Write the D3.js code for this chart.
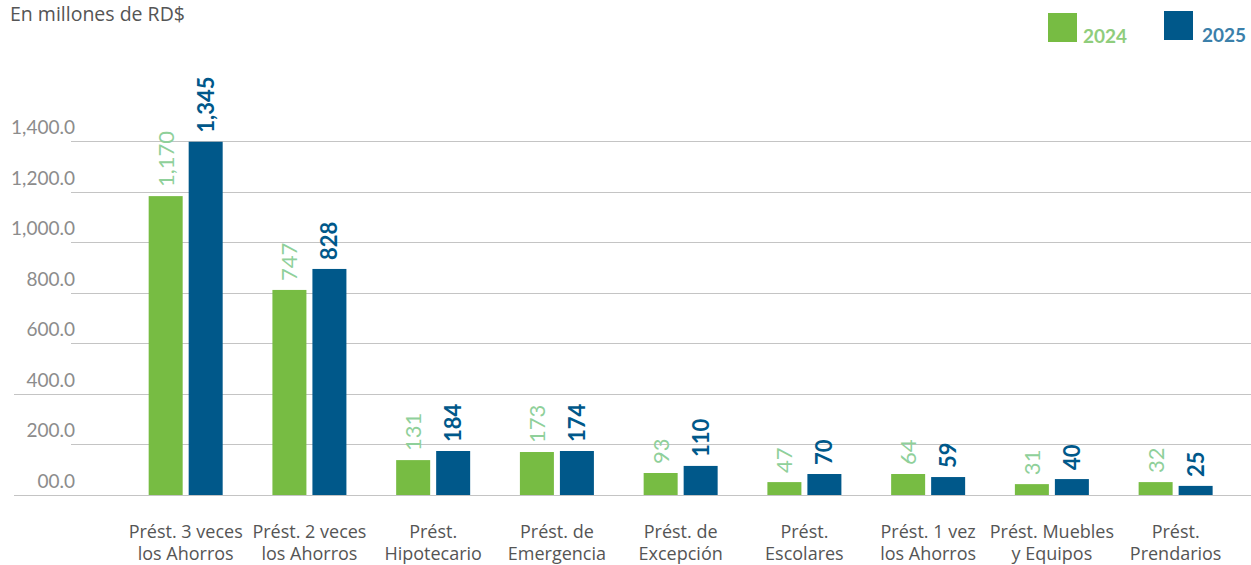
<!DOCTYPE html>
<html>
<head>
<meta charset="utf-8">
<script src="https://cdn.jsdelivr.net/npm/d3@7"></script>
<style>
  html, body { margin: 0; padding: 0; background: #ffffff; }
  svg { display: block; font-family: Lato, "Noto Sans", sans-serif; }
</style>
</head>
<body>
<svg id="chart" width="1251" height="565"></svg>
<script>
// ---- data ----
const categories = [
  ["Prést. 3 veces", "los Ahorros"],
  ["Prést. 2 veces", "los Ahorros"],
  ["Prést.", "Hipotecario"],
  ["Prést. de", "Emergencia"],
  ["Prést. de", "Excepción"],
  ["Prést.", "Escolares"],
  ["Prést. 1 vez", "los Ahorros"],
  ["Prést. Muebles", "y Equipos"],
  ["Prést.", "Prendarios"]
];
const seriesNames = ["2024", "2025"];
// bar heights as drawn in the picture
const values2024 = [1182, 811, 138, 170, 87, 51, 83, 43, 51];
const values2025 = [1397, 894, 174, 174, 115, 83, 71, 63, 36];
// value labels as printed
const labels2024 = ["1,170", "747", "131", "173", "93", "47", "64", "31", "32"];
const labels2025 = ["1,345", "828", "184", "174", "110", "70", "59", "40", "25"];
const tickValues = [0, 200, 400, 600, 800, 1000, 1200, 1400];
const tickLabels = ["00.0", "200.0", "400.0", "600.0", "800.0", "1,000.0", "1,200.0", "1,400.0"];
const titleText = "En millones de RD$";

// ---- styles ----
const barColors = ["#77bc43", "#00588a"];
const labelColors = ["#8fd09a", "#00588a"];
const legendTextColors = ["#8fcd7c", "#3b80aa"];
const labelWeights = ["400", "700"];

const svg = d3.select("#chart");
const W = 1251, H = 565;

const y = d3.scaleLinear().domain([0, 1400]).range([495, 141]);
const x0 = d3.scaleBand().domain(categories.map((d, i) => i)).range([123.8, 1237.5]).padding(0);
const x1 = d3.scaleBand().domain(seriesNames).range([-37, 37]).paddingInner(0.15).paddingOuter(0);

// gridlines
const longTicks = new Set([0, 400]);
const grid = svg.append("g");
grid.selectAll("line").data(tickValues).join("line")
  .attr("x1", d => longTicks.has(d) ? 14 : 71)
  .attr("x2", W)
  .attr("y1", d => Math.round(y(d)) + 0.5)
  .attr("y2", d => Math.round(y(d)) + 0.5)
  .attr("stroke", "#c4c4c4")
  .attr("stroke-width", 1.2);

// y tick labels
svg.append("g").selectAll("text").data(tickValues).join("text")
  .attr("x", 75)
  .attr("y", d => y(d) - 7)
  .attr("text-anchor", "end")
  .attr("fill", "#8c8c8c")
  .attr("font-size", 19)
  .text((d, i) => tickLabels[i]);

// title
svg.append("text")
  .attr("x", 10).attr("y", 21)
  .attr("fill", "#555555")
  .attr("font-family", "'Open Sans', sans-serif")
  .attr("font-size", 19.5)
  .text(titleText);

// bars
const seriesVals = [values2024, values2025];
const seriesLabels = [labels2024, labels2025];
const groups = svg.append("g").selectAll("g").data(categories).join("g")
  .attr("transform", (d, i) => `translate(${x0(i) + x0.bandwidth() / 2},0)`);

seriesNames.forEach((s, si) => {
  groups.append("rect")
    .attr("x", x1(s))
    .attr("width", x1.bandwidth())
    .attr("y", (d, i) => y(seriesVals[si][i]))
    .attr("height", (d, i) => y(0) - y(seriesVals[si][i]))
    .attr("fill", barColors[si]);

  groups.append("text")
    .attr("transform", (d, i) => `translate(${x1(s) + x1.bandwidth() / 2 + 8},${y(seriesVals[si][i]) - 9}) rotate(-90)`)
    .attr("text-anchor", "start")
    .attr("fill", labelColors[si])
    .attr("font-weight", labelWeights[si])
    .attr("font-size", 22)
    .text((d, i) => seriesLabels[si][i]);
});

// category labels
groups.append("text")
  .attr("text-anchor", "middle")
  .attr("fill", "#555555")
  .attr("font-family", "'Open Sans', sans-serif")
  .attr("font-size", 18)
  .selectAll("tspan").data(d => d).join("tspan")
  .attr("x", 0)
  .attr("y", (d, i) => 538 + i * 21.5)
  .text(d => d);

// legend
const legendPos = [{sx: 1048, sy: 13, tx: 1083, ty: 43}, {sx: 1164, sy: 11, tx: 1202, ty: 42}];
const legend = svg.append("g").selectAll("g").data(seriesNames).join("g");
legend.append("rect")
  .attr("x", (d, i) => legendPos[i].sx)
  .attr("y", (d, i) => legendPos[i].sy)
  .attr("width", 29).attr("height", 29)
  .attr("fill", (d, i) => barColors[i]);
legend.append("text")
  .attr("x", (d, i) => legendPos[i].tx)
  .attr("y", (d, i) => legendPos[i].ty)
  .attr("fill", (d, i) => legendTextColors[i])
  .attr("font-weight", "700")
  .attr("font-size", 19)
  .text(d => d);
</script>
</body>
</html>
